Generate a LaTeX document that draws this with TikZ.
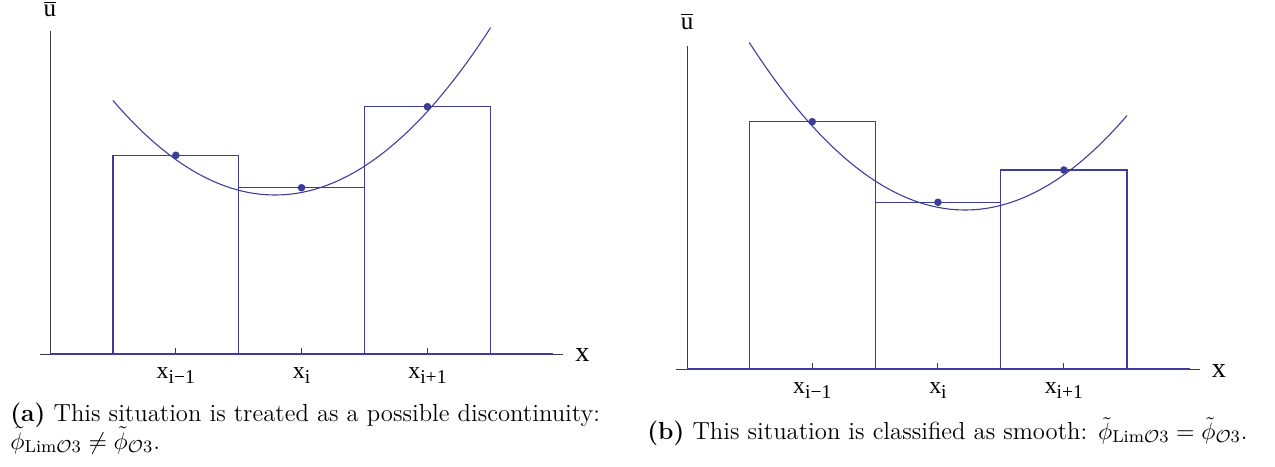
\documentclass[tikz,border=0pt]{standalone}
\usepackage{amsmath,amssymb}
\usepackage{fontspec}
\newfontfamily\axfont{Liberation Serif}
\usetikzlibrary{positioning}
\definecolor{plotblue}{RGB}{61,61,153}
\definecolor{axisgray}{RGB}{60,60,60}
\newcommand{\idx}[1]{\raisebox{-.45ex}{\fontsize{9}{9}\selectfont #1}}

\begin{document}
\begin{tikzpicture}[x=.46pt, y=-.46pt,
  axisline/.style={axisgray, line width=.45pt},
  cellbox/.style={plotblue, line width=.6pt},
  parab/.style={plotblue, line width=.5pt, samples=80},
  pointdot/.style={circle, fill=plotblue, inner sep=0pt, minimum size=3.5pt},
  ticklabel/.style={font=\axfont\fontsize{11}{11}\selectfont, anchor=base, inner sep=0pt},
  axislabel/.style={font=\axfont\fontsize{13}{13}\selectfont, inner sep=0pt},
  ubarlabel/.style={font=\axfont\fontsize{11.5}{11.5}\selectfont, inner sep=0pt, anchor=base},
  captext/.style={font=\fontsize{11.35}{12.6}\selectfont, anchor=base west, inner sep=0pt}]

\useasboundingbox (0,0) rectangle (1275,467);

% (a) left panel
\draw[axisline] (40,354) -- (563,354);
\draw[axisline] (50,354) -- (50,31);
\foreach \t in {175.85,301.55,427.45}
  \draw[axisline] (\t,354) -- (\t,348);
\draw[cellbox] (50,354) -- (112.9,354) (490.6,354) -- (553,354);
\draw[cellbox] (112.9,354) rectangle (238.8,155.3);
\draw[cellbox] (238.8,354) rectangle (364.3,187.7);
\draw[cellbox] (364.3,354) rectangle (490.6,106.7);
\draw[parab, domain=112.9:490.6] plot (\x, {195-(0.06*(\x-275))^2});
\node[pointdot] (la) at (175.85,155.3) {};
\node[pointdot] (lb) at (301.55,187.7) {};
\node[pointdot] (lc) at (427.45,106.7) {};
\node[ticklabel] (lm) at (175.85,378.3) {x\idx{i−1}};
\node[ticklabel] (li) at (301.55,378.3) {x\idx{i}};
\node[ticklabel] (lp) at (427.45,378.3) {x\idx{i+1}};
\node[axislabel, anchor=base] (lx) at (582.5,362) {x};
\node[ubarlabel] (lu) at (50,17) {$\overline{\mbox{u}}$};

% (b) right panel
\draw[axisline] (676.4,369) -- (1200,369);
\draw[axisline] (687,369) -- (687,46);
\foreach \t in {812.25,937.95,1063.85}
  \draw[axisline] (\t,369) -- (\t,363);
\draw[cellbox] (687,369) -- (749.3,369) (1127,369) -- (1190,369);
\draw[cellbox] (749.3,369) rectangle (875.2,121.7);
\draw[cellbox] (875.2,369) rectangle (1000.7,202.3);
\draw[cellbox] (1000.7,369) rectangle (1127,170);
\draw[parab, domain=749.3:1127] plot (\x, {210-(0.06*(\x-965))^2});
\node[pointdot] (ra) at (812.25,121.7) {};
\node[pointdot] (rb) at (937.95,202.3) {};
\node[pointdot] (rc) at (1063.85,170) {};
\node[ticklabel] (rm) at (812.25,393.3) {x\idx{i−1}};
\node[ticklabel] (ri) at (937.95,393.3) {x\idx{i}};
\node[ticklabel] (rp) at (1063.85,393.3) {x\idx{i+1}};
\node[axislabel, anchor=base] (rx) at (1219,377) {x};
\node[ubarlabel] (ru) at (687,29.5) {$\overline{\mbox{u}}$};

% Captions
\node[captext] (capa) at (10,421.7) {\textbf{(a)} This situation is treated as a possible discontinuity:};
\node[captext] (capa2) at (10,449) {$\tilde{\phi}_{\mathrm{Lim}\mathcal{O}3}\neq\tilde{\phi}_{\mathcal{O}3}$.};
\node[captext] (capb) at (647,439.3) {\textbf{(b)} This situation is classified as smooth: $\tilde{\phi}_{\mathrm{Lim}\mathcal{O}3}=\tilde{\phi}_{\mathcal{O}3}$.};

\end{tikzpicture}
\end{document}
